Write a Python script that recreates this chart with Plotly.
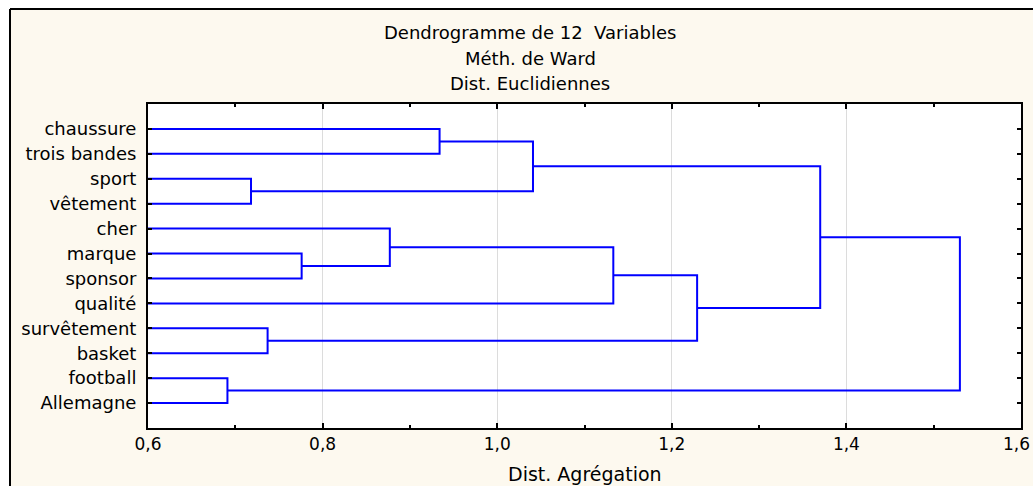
import plotly.graph_objects as go

# ---- data ----
labels = ["chaussure", "trois bandes", "sport", "vêtement", "cher", "marque",
          "sponsor", "qualité", "survêtement", "basket", "football", "Allemagne"]
# merges (ids: 0..11 leaves, 12.. merged clusters in order)
merge_left = [10, 2, 8, 5, 4, 0, 17, 16, 19, 18, 21]
merge_right = [11, 3, 9, 6, 15, 1, 13, 7, 14, 20, 12]
merge_height = [0.691, 0.718, 0.737, 0.776, 0.877, 0.934, 1.041, 1.133, 1.229, 1.370, 1.530]
x_tick_vals = [0.6, 0.8, 1.0, 1.2, 1.4, 1.6]
x_tick_text = ["0,6", "0,8", "1,0", "1,2", "1,4", "1,6"]
title_lines = ["Dendrogramme de 12  Variables", "Méth. de Ward", "Dist. Euclidiennes"]
x_title = "Dist. Agrégation"

X_MIN, X_MAX = 0.6, 1.6

# ---- build dendrogram paths from merge data ----
node_x = {i: X_MIN for i in range(len(labels))}
node_y = {i: i + 1 for i in range(len(labels))}
xs, ys = [], []
for k, (a, b, h) in enumerate(zip(merge_left, merge_right, merge_height)):
    nid = len(labels) + k
    xs += [node_x[a], h, h, node_x[b], None]
    ys += [node_y[a], node_y[a], node_y[b], node_y[b], None]
    node_x[nid] = h
    node_y[nid] = (node_y[a] + node_y[b]) / 2

W, H = 1033, 486
L, R, T, B = 148, 1021, 104, 428

def px(x):
    return (x - L) / (R - L)

def py(y):
    return (B - y) / (B - T)

fig = go.Figure()
fig.add_trace(go.Scatter(x=xs, y=ys, mode="lines",
                         line=dict(color="#0000ff", width=2),
                         hoverinfo="skip", showlegend=False))

FONT = "DejaVu Sans"
cream = "#fdf9ef"

shapes = [
    dict(type="rect", xref="paper", yref="paper", x0=px(-5), x1=px(10), y0=py(495), y1=py(-5),
         fillcolor="white", line=dict(width=0), layer="above"),
    dict(type="rect", xref="paper", yref="paper", x0=px(-5), x1=px(1040), y0=py(9), y1=py(-5),
         fillcolor="white", line=dict(width=0), layer="above"),
    dict(type="line", xref="paper", yref="paper", x0=px(10), x1=px(10), y0=py(9), y1=py(495),
         line=dict(color="black", width=2), layer="above"),
    dict(type="line", xref="paper", yref="paper", x0=px(10), x1=px(1040), y0=py(9), y1=py(9),
         line=dict(color="black", width=2), layer="above"),
]

annotations = []
for line_txt, yy in zip(title_lines, [33, 58, 84]):
    annotations.append(dict(text=line_txt, xref="paper", yref="paper", x=px(530), y=py(yy),
                            xanchor="center", yanchor="middle", showarrow=False,
                            font=dict(family=FONT, size=18, color="black")))
annotations.append(dict(text=x_title, xref="paper", yref="paper", x=px(585), y=py(474),
                        xanchor="center", yanchor="middle", showarrow=False,
                        font=dict(family=FONT, size=19, color="black")))
# last tick label kept fully inside the page (right-aligned to the page edge)
annotations.append(dict(text=x_tick_text[-1], xref="paper", yref="paper", x=px(W - 1), y=py(444),
                        xanchor="right", yanchor="middle", showarrow=False,
                        font=dict(family=FONT, size=17, color="black")))

fig.update_layout(
    width=W, height=H, autosize=False,
    margin=dict(l=L, r=W - R, t=T, b=H - B, pad=0, autoexpand=False),
    paper_bgcolor=cream, plot_bgcolor="white",
    shapes=shapes, annotations=annotations,
    font=dict(family=FONT, color="black"),
)
fig.update_xaxes(range=[X_MIN, X_MAX], tickvals=x_tick_vals,
                 ticktext=x_tick_text[:-1] + [""],
                 ticks="inside", ticklen=5, tickwidth=2, tickcolor="black",
                 showline=True, linewidth=2, linecolor="black", mirror="allticks",
                 showgrid=True, gridcolor="#dcdcdc", gridwidth=1, zeroline=False,
                 automargin=False, ticklabeloverflow="allow",
                 tickfont=dict(family=FONT, size=17, color="black"),
                 minor=dict(dtick=0.1, tick0=0.6, ticks="inside", ticklen=3, tickwidth=2,
                            tickcolor="black", showgrid=False))
fig.update_yaxes(range=[13, 0], tickvals=list(range(1, len(labels) + 1)), ticktext=labels,
                 ticks="inside", ticklen=4, tickwidth=2, tickcolor="black",
                 showline=True, linewidth=2, linecolor="black", mirror="allticks",
                 showgrid=False, zeroline=False, ticklabelstandoff=6, automargin=False,
                 tickfont=dict(family=FONT, size=18, color="black"))

fig.write_html("out.html",
               config={"responsive": False, "displayModeBar": False},
               post_script="document.body.style.margin='0';document.body.style.overflow='hidden';")
